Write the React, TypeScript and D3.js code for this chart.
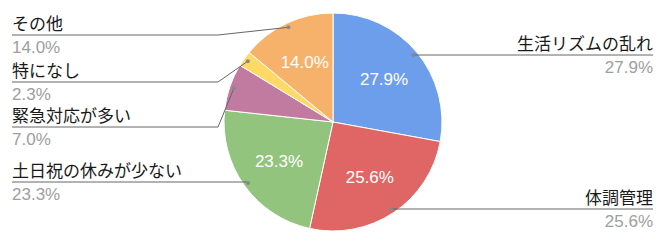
import React from "react";
import * as d3 from "d3";

const categories = ["生活リズムの乱れ", "体調管理", "土日祝の休みが少ない", "緊急対応が多い", "特になし", "その他"];
const values = [27.9, 25.6, 23.3, 7.0, 2.3, 14.0];
const colors = ["#6d9eeb", "#e06666", "#93c47d", "#c27ba0", "#ffd966", "#f6b26b"];
// label line y positions (layout)
const labelLineY = [55, 209, 182, 127, 82, 35];
const labelSide = ["right", "right", "left", "left", "left", "left"];

const W = 666, H = 244;
const cx = 333, cy = 122, R = 109;
const FONT = "Arial, 'Liberation Sans', 'Noto Sans CJK JP', sans-serif";
const FS = 17;

export default function App() {
  const pie = d3.pie<number>().sort(null).value((d) => d);
  const arcs = pie(values);
  const arcGen = d3.arc<d3.PieArcDatum<number>>().innerRadius(0).outerRadius(R);
  const inner = d3.arc<d3.PieArcDatum<number>>().innerRadius(R * 0.61).outerRadius(R * 0.61);
  const dotArc = d3.arc<d3.PieArcDatum<number>>().innerRadius(R * 0.96).outerRadius(R * 0.96);
  const fmt = (v: number) => v.toFixed(1) + "%";

  return (
    <svg width={W} height={H} style={{ position: "absolute", left: 0, top: 0, fontFamily: FONT }}>
      <rect width={W} height={H} fill="#fff" />
      <g transform={`translate(${cx},${cy})`}>
        {arcs.map((a, i) => (
          <path key={i} d={arcGen(a) || ""} fill={colors[i]} stroke="#fff" strokeWidth={1} />
        ))}
        {arcs.map((a, i) => {
          if (values[i] < 10) return null;
          const [x, y] = inner.centroid(a);
          return (
            <text key={i} x={x} y={y} dy="0.35em" textAnchor="middle" fill="#fff" fontSize={FS}>
              {fmt(values[i])}
            </text>
          );
        })}
      </g>
      {arcs.map((a, i) => {
        const [dx, dy] = dotArc.centroid(a);
        const px = cx + dx, py = cy + dy;
        const ly = labelLineY[i];
        if (labelSide[i] === "right") {
          return (
            <g key={i}>
              <line x1={px} y1={ly} x2={653} y2={ly} stroke="#666" strokeWidth={1} />
              <circle cx={px} cy={py} r={2} fill="#888" />
              <text x={653} y={ly - 5} textAnchor="end" fill="#1a1a1a" fontSize={FS}>{categories[i]}</text>
              <text x={653} y={ly + 18} textAnchor="end" fill="#9e9e9e" fontSize={FS}>{fmt(values[i])}</text>
            </g>
          );
        }
        const bendX = Math.abs(py - ly) < 2 ? px : 218;
        return (
          <g key={i}>
            <polyline points={`12,${ly} ${bendX},${ly} ${px},${py}`} fill="none" stroke="#666" strokeWidth={1} />
            <circle cx={px} cy={py} r={2} fill="#888" />
            <text x={12} y={ly - 5} fill="#1a1a1a" fontSize={FS}>{categories[i]}</text>
            <text x={12} y={ly + 18} fill="#9e9e9e" fontSize={FS}>{fmt(values[i])}</text>
          </g>
        );
      })}
    </svg>
  );
}
